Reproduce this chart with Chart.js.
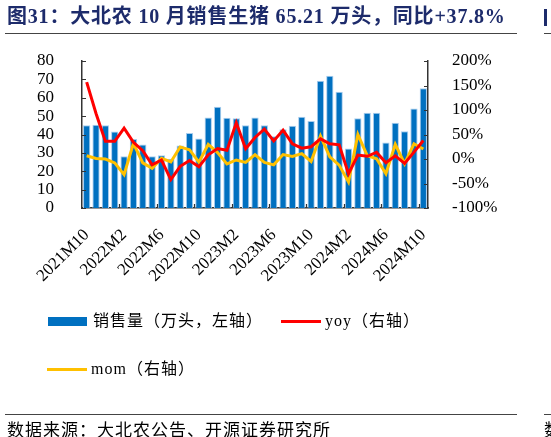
<!DOCTYPE html>
<html>
<head>
<meta charset="utf-8">
<script src="https://cdn.jsdelivr.net/npm/chart.js@4"></script>
<style>
  body { margin: 0; width: 551px; height: 437px; background: #fff; position: relative; overflow: hidden; }
  #chart { position: absolute; left: 0; top: 0; }
  .txt { position: absolute; font-family: "Liberation Serif", "Noto Sans CJK SC", serif; white-space: nowrap; line-height: 1; }
  #title { left: 7px; top: 6px; font-size: 20px; letter-spacing: 0.8px; font-weight: bold; color: #1d2b6b; }
  .rule { position: absolute; height: 1px; background: #444; }
  .lg { font-size: 16px; letter-spacing: 1px; color: #000; }
  .sw { position: absolute; }
  #src { left: 7px; top: 422px; font-size: 17px; letter-spacing: 1px; color: #000; }
</style>
</head>
<body>
<canvas id="chart" width="551" height="437"></canvas>

<div class="txt" id="title">图31：大北农 10 月销售生猪 65.21 万头，同比+37.8%</div>
<div class="rule" style="left:5px; top:33px; width:512px;"></div>
<div class="sw" style="left:544px; top:9px; width:3px; height:17px; background:#1d2b6b;"></div>
<div class="rule" style="left:544px; top:33px; width:7px;"></div>

<div class="sw" style="left:48px; top:317px; width:39px; height:9px; background:#0070c0;"></div>
<div class="txt lg" style="left:93px; top:313px;">销售量（万头，左轴）</div>
<div class="sw" style="left:281px; top:320px; width:40px; height:3px; background:#ff0000;"></div>
<div class="txt lg" style="left:325px; top:313px;">yoy（右轴）</div>
<div class="sw" style="left:47px; top:368px; width:40px; height:3px; background:#ffc000;"></div>
<div class="txt lg" style="left:91px; top:361px;">mom（右轴）</div>

<div class="rule" style="left:5px; top:414px; width:512px;"></div>
<div class="rule" style="left:544px; top:414px; width:7px;"></div>
<div class="txt" id="src">数据来源：大北农公告、开源证券研究所</div>
<div class="txt" style="left:544px; top:422px; font-size:17px;">数据</div>

<script>
const months = [
  "2021M10", "2021M11", "2021M12",
  "2022M1", "2022M2", "2022M3", "2022M4", "2022M5", "2022M6", "2022M7", "2022M8", "2022M9", "2022M10", "2022M11", "2022M12",
  "2023M1", "2023M2", "2023M3", "2023M4", "2023M5", "2023M6", "2023M7", "2023M8", "2023M9", "2023M10", "2023M11", "2023M12",
  "2024M1", "2024M2", "2024M3", "2024M4", "2024M5", "2024M6", "2024M7", "2024M8", "2024M9", "2024M10"
];

// 销售量（万头）
const sales = [
  45.1, 45.3, 45.0,
  41.7, 28.2, 37.5, 34.6, 28.2, 28.7, 26.8, 34.0, 40.8, 37.8, 49.3, 55.1,
  49.1, 48.8, 45.1, 49.3, 45.0, 39.1, 42.9, 44.7, 49.7, 47.3, 69.2, 72.0,
  63.3, 32.4, 48.8, 51.8, 51.8, 35.7, 46.4, 41.8, 54.2, 65.21
];

// yoy (%)
const yoy = [
  157, 93, 36,
  36, 63, 34, 17, -12, -2, -42, -15, -3, -16, 8.5, 21.5,
  18, 73.8, 21, 44, 61, 37, 59, 31, 22, 25, 41, 31,
  29, -30, 8, 5.5, 13.5, -7.5, 6.5, -9, 14, 37.8
];

// mom (%)
const mom = [
  6.5, 1, 0,
  -8, -32, 32, -8, -19, 1.5, -6, 24.7, 19, -6.5, 30, 13,
  -10, -2, -7, 9, -7, -12, 9, 5, 11, -5, 47, 4.4,
  -12.5, -47, 50, 7, 0.5, -30, 30, -9.5, 31, 20.3
];

const leftTicks = [0, 10, 20, 30, 40, 50, 60, 70, 80];
const rightTicks = [-100, -50, 0, 50, 100, 150, 200];
const labelEvery = 4;

Chart.defaults.font.family = "'Liberation Serif', 'Times New Roman', serif";
Chart.defaults.font.size = 17;
Chart.defaults.color = "#000";

// small inward tick marks like the original
const innerTicks = {
  id: "innerTicks",
  afterDraw(chart) {
    const ctx = chart.ctx;
    const area = chart.chartArea;
    const x = chart.scales.x, y = chart.scales.y, y1 = chart.scales.y1;
    ctx.save();
    ctx.strokeStyle = "#333";
    ctx.lineWidth = 1.2;
    ctx.beginPath();
    leftTicks.forEach(v => {
      const py = Math.round(y.getPixelForValue(v)) + 0.5;
      ctx.moveTo(area.left, py);
      ctx.lineTo(area.left + 4, py);
    });
    rightTicks.forEach(v => {
      const py = Math.round(y1.getPixelForValue(v)) + 0.5;
      ctx.moveTo(area.right, py);
      ctx.lineTo(area.right - 4, py);
    });
    for (let i = labelEvery; i <= months.length; i += labelEvery) {
      let bx = i < months.length
        ? (x.getPixelForValue(i - 1) + x.getPixelForValue(i)) / 2
        : area.right;
      bx = Math.round(bx) + 0.5;
      ctx.moveTo(bx, area.bottom);
      ctx.lineTo(bx, area.bottom - 4);
    }
    ctx.stroke();
    ctx.restore();
  }
};

new Chart("chart", {
  data: {
    labels: months,
    datasets: [
      {
        type: "line",
        label: "yoy（右轴）",
        data: yoy,
        borderColor: "#ff0000",
        borderWidth: 3,
        pointRadius: 0,
        tension: 0,
        fill: false,
        yAxisID: "y1",
        order: 1,
      },
      {
        type: "line",
        label: "mom（右轴）",
        data: mom,
        borderColor: "#ffc000",
        borderWidth: 3,
        pointRadius: 0,
        tension: 0,
        fill: false,
        yAxisID: "y1",
        order: 2,
      },
      {
        type: "bar",
        label: "销售量（万头，左轴）",
        data: sales,
        backgroundColor: "#0070c0",
        borderColor: "#a9cdee",
        borderWidth: { left: 1, right: 1, top: 1, bottom: 0 },
        barPercentage: 0.78,
        categoryPercentage: 1,
        yAxisID: "y",
        order: 3,
      },
    ],
  },
  options: {
    responsive: false,
    animation: false,
    events: [],
    layout: { padding: { top: 61, left: 0, right: 0, bottom: 0 } },
    plugins: {
      legend: { display: false },
      tooltip: { enabled: false },
    },
    scales: {
      x: {
        offset: true,
        grid: { display: false },
        border: { display: true, color: "#333", width: 1.5 },
        ticks: {
          autoSkip: false,
          maxRotation: 45,
          minRotation: 45,
          padding: 9,
          callback: (v, i) => (i % labelEvery === 0 ? months[i] : ""),
        },
        afterFit: (s) => { s.height = 229; },
      },
      y: {
        position: "left",
        min: 0,
        max: 80,
        afterBuildTicks: (s) => { s.ticks = leftTicks.map(v => ({ value: v })); },
        grid: { display: false },
        border: { display: true, color: "#333", width: 1.5 },
        ticks: { autoSkip: false, padding: 20 },
        afterFit: (s) => { s.width = 82; },
      },
      y1: {
        position: "right",
        min: -100,
        max: 200,
        afterBuildTicks: (s) => { s.ticks = rightTicks.map(v => ({ value: v })); },
        grid: { display: false },
        border: { display: true, color: "#333", width: 1.5 },
        ticks: { autoSkip: false, padding: 16, callback: (v) => v + "%" },
        afterFit: (s) => { s.width = 123; },
      },
    },
  },
  plugins: [innerTicks],
});
</script>
</body>
</html>
